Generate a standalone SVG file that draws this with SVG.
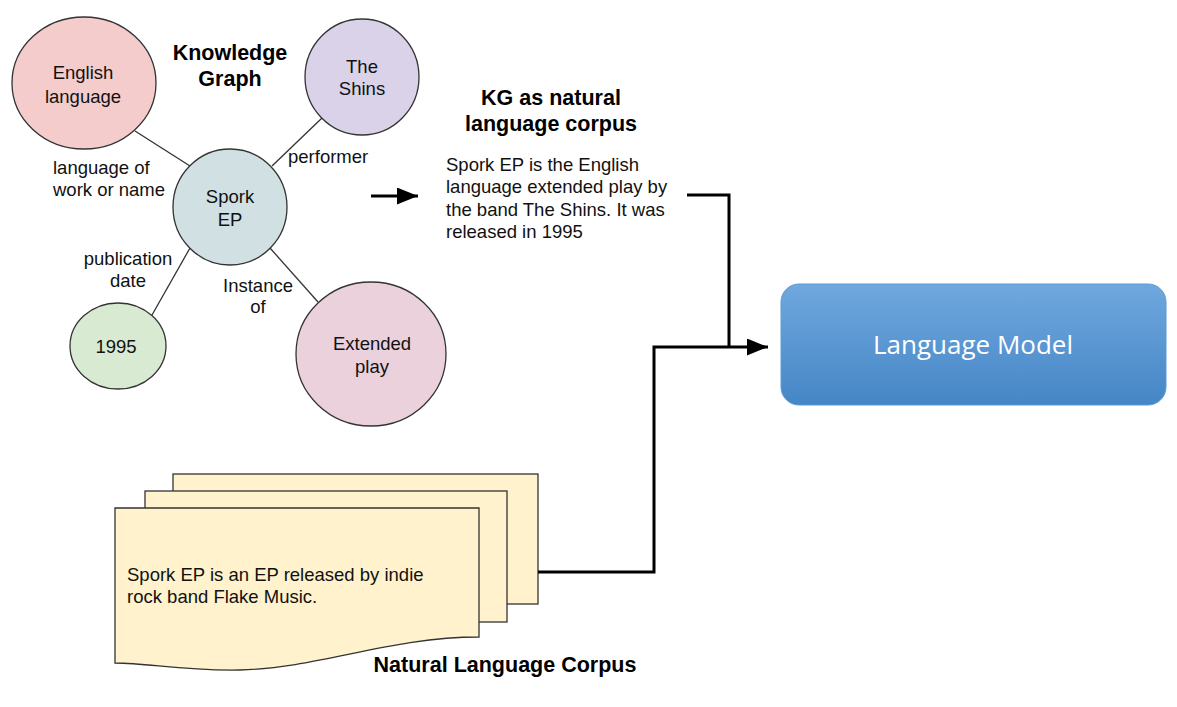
<svg xmlns="http://www.w3.org/2000/svg" width="1177" height="707" viewBox="0 0 1177 707">
<style>
.node{stroke:#333;stroke-width:1.3}
.t{font-family:"Liberation Sans",Arial,sans-serif;font-size:18.5px;fill:#111}
.c{text-anchor:middle}
.b{font-family:"Liberation Sans",Arial,sans-serif;font-size:21.5px;font-weight:bold;fill:#000;text-anchor:middle}
.edge{stroke:#333;stroke-width:1.3;fill:none}
.conn{stroke:#000;stroke-width:3;fill:none}
.page{fill:#fff2cc;stroke:#333;stroke-width:1.3}
</style>
<defs>
<marker id="arr" markerUnits="userSpaceOnUse" markerWidth="22" markerHeight="18" refX="21" refY="8.5" orient="auto">
<path d="M0,0 L21,8.5 L0,17 Z" fill="#000"/>
</marker>
<linearGradient id="lm" x1="0" y1="0" x2="0" y2="1">
<stop offset="0" stop-color="#70a8de"/>
<stop offset="1" stop-color="#4586c6"/>
</linearGradient>
</defs>
<rect width="1177" height="707" fill="#fff"/>

<g id="kg-edges">
<line class="edge" x1="135" y1="131" x2="190" y2="166"/>
<line class="edge" x1="322" y1="118" x2="272" y2="166"/>
<line class="edge" x1="152" y1="315" x2="190" y2="248"/>
<line class="edge" x1="318" y1="302" x2="270" y2="248"/>
</g>

<g id="title-kg">
<text class="b" x="230" y="60">Knowledge</text>
<text class="b" x="230" y="86">Graph</text>
</g>

<g id="node-english">
<ellipse class="node" cx="84" cy="83" rx="72" ry="66" fill="#f4cccc"/>
<text class="t c" x="83" y="79">English</text>
<text class="t c" x="83" y="103">language</text>
</g>
<g id="node-shins">
<ellipse class="node" cx="362" cy="77" rx="57" ry="58" fill="#d9d2e9"/>
<text class="t c" x="362" y="73">The</text>
<text class="t c" x="362" y="95">Shins</text>
</g>
<g id="node-spork">
<ellipse class="node" cx="230" cy="207" rx="57" ry="58" fill="#d0e0e3"/>
<text class="t c" x="230" y="203">Spork</text>
<text class="t c" x="230" y="226">EP</text>
</g>
<g id="node-1995">
<ellipse class="node" cx="118" cy="346" rx="48" ry="43" fill="#d9ead3"/>
<text class="t c" x="116" y="353">1995</text>
</g>
<g id="node-extended">
<ellipse class="node" cx="371" cy="354" rx="75" ry="72" fill="#ead1dc"/>
<text class="t c" x="372" y="350">Extended</text>
<text class="t c" x="372" y="373">play</text>
</g>

<g id="edge-labels">
<text class="t" x="53" y="174">language of</text>
<text class="t" x="53" y="196">work or name</text>
<text class="t" x="288" y="163">performer</text>
<text class="t c" x="128" y="265">publication</text>
<text class="t c" x="128" y="287">date</text>
<text class="t c" x="258" y="292">Instance</text>
<text class="t c" x="258" y="313">of</text>
</g>

<g id="kg-corpus">
<text class="b" x="551" y="105">KG as natural</text>
<text class="b" x="551" y="131">language corpus</text>
<text class="t" x="446" y="171">Spork EP is the English</text>
<text class="t" x="446" y="193">language extended play by</text>
<text class="t" x="446" y="216">the band The Shins. It was</text>
<text class="t" x="446" y="238">released in 1995</text>
</g>

<g id="nl-corpus">
<rect class="page" x="173" y="474" width="365" height="130"/>
<rect class="page" x="145" y="491" width="362" height="131"/>
<path class="page" d="M115,508 L479,508 L479,637 C390,637 320,668 240,670 C180,671 150,663 115,663 Z"/>
<text class="t" x="127" y="581">Spork EP is an EP released by indie</text>
<text class="t" x="127" y="603">rock band Flake Music.</text>
<text class="b" x="505" y="672">Natural Language Corpus</text>
</g>

<g id="node-lm">
<rect x="781" y="284" width="385" height="121" rx="18" fill="url(#lm)" stroke="#5b9bd5" stroke-width="1"/>
<text x="973" y="354" font-family="'Open Sans',sans-serif" font-size="26" fill="#fff" text-anchor="middle">Language Model</text>
</g>

<g id="connectors">
<line class="conn" x1="371" y1="196" x2="418" y2="196" marker-end="url(#arr)"/>
<polyline class="conn" points="687,195 729,195 729,347"/>
<polyline class="conn" points="538,572 654,572 654,347 768,347" marker-end="url(#arr)"/>
</g>
</svg>
